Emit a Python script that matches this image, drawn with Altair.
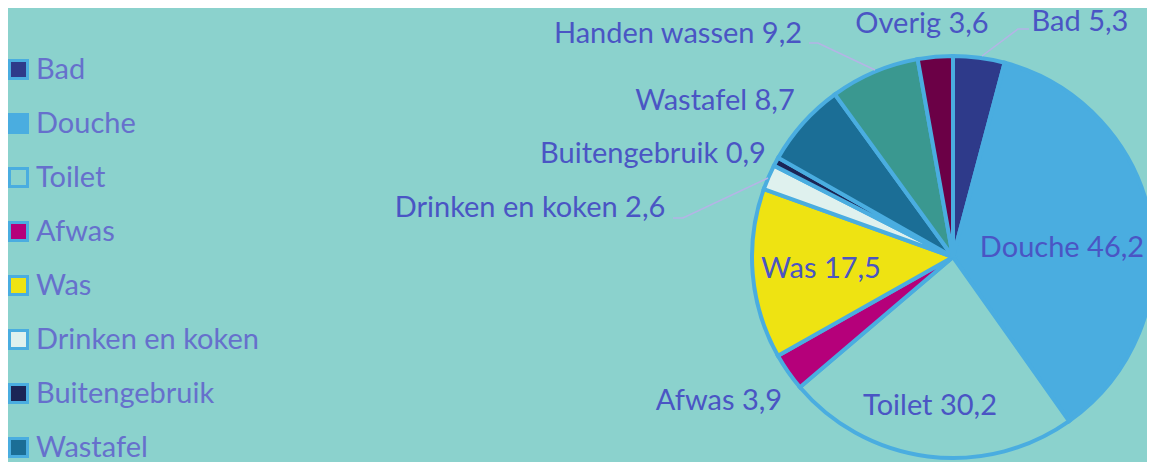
import altair as alt
import pandas as pd

# ---- data ----
categories = ["Bad", "Douche", "Toilet", "Afwas", "Was", "Drinken en koken",
              "Buitengebruik", "Wastafel", "Handen wassen", "Overig"]
values = [5.3, 46.2, 30.2, 3.9, 17.5, 2.6, 0.9, 8.7, 9.2, 3.6]
colors = ["#2e3a8a", "#4aade0", "#8bd2cd", "#b5007a", "#eee312", "#dff1ee",
          "#1b2556", "#1b6e96", "#3a9890", "#6b0046"]
labels = [f"{c} {str(v).replace('.', ',')}" for c, v in zip(categories, values)]

# ---- layout (label anchors and leader lines, in pixels) ----
label_x = [1072, 1054, 922, 711, 813, 522, 645, 707, 670, 914]
label_y = [23, 249, 407, 402, 270, 209, 155, 102, 35, 25]
leader_id = ["Bad", "Bad", "Bad", "Handen", "Handen", "Handen", "Drinken", "Drinken", "Drinken"]
leader_ord = [0, 1, 2, 0, 1, 2, 0, 1, 2]
leader_x = [974, 1010, 1021, 867, 810, 801, 760, 675, 665]
leader_y = [48, 21, 21, 62, 35, 35, 170, 210, 210]

BG = "#8bd2cd"
EDGE = "#4aade0"

df = pd.DataFrame({"category": categories, "value": values, "idx": list(range(len(values)))})
lab = pd.DataFrame({"label": labels, "lx": label_x, "ly": label_y})
lead = pd.DataFrame({"id": leader_id, "o": leader_ord, "x": leader_x, "y": leader_y})

pie = alt.Chart(df).mark_arc(radius=201, stroke=EDGE, strokeWidth=4).encode(
    theta=alt.Theta("value:Q", stack=True),
    order=alt.Order("idx:Q"),
    color=alt.Color(
        "category:N",
        scale=alt.Scale(domain=categories, range=colors),
        legend=alt.Legend(
            title=None, orient="none", legendX=-4, legendY=47,
            symbolType="square", symbolSize=324,
            symbolStrokeColor=EDGE, symbolStrokeWidth=3,
            labelFont="Lato", labelFontSize=29, labelColor="#6670cc",
            labelOffset=3, rowPadding=23, padding=0, labelLimit=400,
        ),
    ),
    x=alt.value(945),
    y=alt.value(249),
)

leaders = alt.Chart(lead).mark_line(stroke="#b4b4e6", strokeWidth=1.5).encode(
    x=alt.X("x:Q", scale=None),
    y=alt.Y("y:Q", scale=None),
    detail="id:N",
    order="o:Q",
)

text = alt.Chart(lab).mark_text(
    font="Lato", fontSize=29, color="#4a55c4", align="center", baseline="alphabetic"
).encode(
    x=alt.X("lx:Q", scale=None),
    y=alt.Y("ly:Q", scale=None),
    text="label:N",
)

chart = alt.layer(pie, leaders, text).properties(
    width=1139, height=454, background=BG, padding=0,
    autosize=alt.AutoSizeParams(type="none"),
).configure_view(stroke=None)

chart.save("out.html", embed_options={"renderer": "svg", "actions": False})
